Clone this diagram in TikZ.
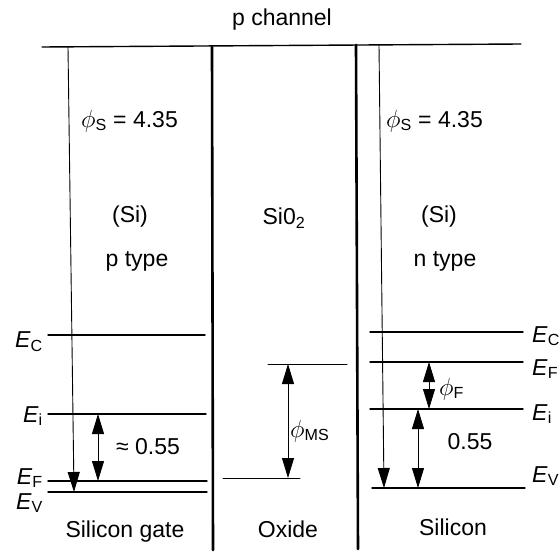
\documentclass[tikz,border=0pt]{standalone}
\usepackage{fontspec}
\setmainfont{Liberation Sans}
\usetikzlibrary{arrows.meta}
\newcommand{\band}[1]{\textit{E}\textsubscript{#1}}
\newcommand{\wf}[1]{$\phi$\textsubscript{#1}}

\begin{document}
\begin{tikzpicture}[x=1pt,y=-1pt,line cap=round,line join=round,
  every node/.style={font=\fontsize{23}{27}\selectfont,inner sep=1pt},
  level/.style={line width=1.4pt},
  wall/.style={line width=2.6pt},
  span/.style={line width=0.9pt,{Triangle[length=20pt,width=12pt]}-{Triangle[length=20pt,width=12pt]}},
  drop/.style={line width=0.9pt,-{Triangle[length=20pt,width=12pt]}}]
  \useasboundingbox (0,0) rectangle (560,556);
  % top line and walls
  \coordinate (tl) at (42,47);
  \coordinate (tr) at (521,44);
  \coordinate (w1t) at (212,47);
  \coordinate (w1b) at (213,550);
  \coordinate (w2t) at (356,45);
  \coordinate (w2b) at (358,549);
  \draw[level] (tl)--(tr);
  \draw[wall] (w1t)--(w1b);
  \draw[wall] (w2t)--(w2b);
  % gate levels
  \coordinate (gC1) at (48,335); \coordinate (gC2) at (205,335);
  \coordinate (gI1) at (48,414); \coordinate (gI2) at (206,414);
  \coordinate (gF1) at (48,481); \coordinate (gF2) at (207,481);
  \coordinate (gV1) at (48,492); \coordinate (gV2) at (207,492);
  \foreach \l in {C,I,F,V} \draw[level] (g\l1)--(g\l2);
  \coordinate (gtop) at (68,47);
  \coordinate (gbot) at (74,492);
  \draw[drop] (gtop)--(gbot);
  \coordinate (ga) at (98,414);
  \coordinate (gb) at (98,481);
  \draw[span] (ga)--(gb);
  % oxide levels
  \coordinate (oT1) at (268,364); \coordinate (oT2) at (347,364);
  \coordinate (oB1) at (223,478); \coordinate (oB2) at (300,478);
  \draw[line width=1pt] (oT1)--(oT2);
  \draw[line width=1pt] (oB1)--(oB2);
  \coordinate (oa) at (288,364);
  \coordinate (ob) at (288,478);
  \draw[span] (oa)--(ob);
  % silicon levels
  \coordinate (sC1) at (370,332); \coordinate (sC2) at (523,332);
  \coordinate (sF1) at (370,362); \coordinate (sF2) at (523,362);
  \coordinate (sI1) at (370,409); \coordinate (sI2) at (523,409);
  \coordinate (sV1) at (372,488); \coordinate (sV2) at (525,488);
  \foreach \l in {C,F,I,V} \draw[level] (s\l1)--(s\l2);
  \coordinate (stop) at (379,45);
  \coordinate (sbot) at (384,488);
  \draw[drop] (stop)--(sbot);
  \coordinate (sa) at (429,362);
  \coordinate (sb) at (429,409);
  \draw[span] (sa)--(sb);
  \coordinate (sc) at (418,409);
  \coordinate (sd) at (418,488);
  \draw[span] (sc)--(sd);
  % texts
  \node (chan) at (282,20) {p channel};
  \node[anchor=west] (phig) at (80,121) {\wf{S} = 4.35};
  \node[anchor=west] (phis) at (385,121) {\wf{S} = 4.35};
  \node (sig) at (130,217) {(Si)};
  \node (ptype) at (137,261) {p type};
  \node (sio) at (284,218) {Si0\textsubscript{2}};
  \node (sis) at (439,217) {(Si)};
  \node (ntype) at (445,261) {n type};
  \node (gap) at (148,447) {≈ 0.55};
  \node[anchor=west] (phims) at (289,431) {\wf{MS}};
  \node[anchor=west] (phif) at (438,389) {\wf{F}};
  \node (half) at (470,442) {0.55};
  \node (gate) at (125,532) {Silicon gate};
  \node (oxide) at (288,529) {Oxide};
  \node (silicon) at (453,527) {Silicon};
  \node[anchor=base east] (lgC) at (44,348) {\band{C}};
  \node[anchor=base east] (lgI) at (44,422) {\band{i}};
  \node[anchor=base east] (lgF) at (44,484) {\band{F}};
  \node[anchor=base east] (lgV) at (44,509) {\band{V}};
  \node[anchor=base west] (lsC) at (531,342) {\band{C}};
  \node[anchor=base west] (lsF) at (531,375) {\band{F}};
  \node[anchor=base west] (lsI) at (531,420) {\band{i}};
  \node[anchor=base west] (lsV) at (531,482) {\band{V}};
\end{tikzpicture}
\end{document}
